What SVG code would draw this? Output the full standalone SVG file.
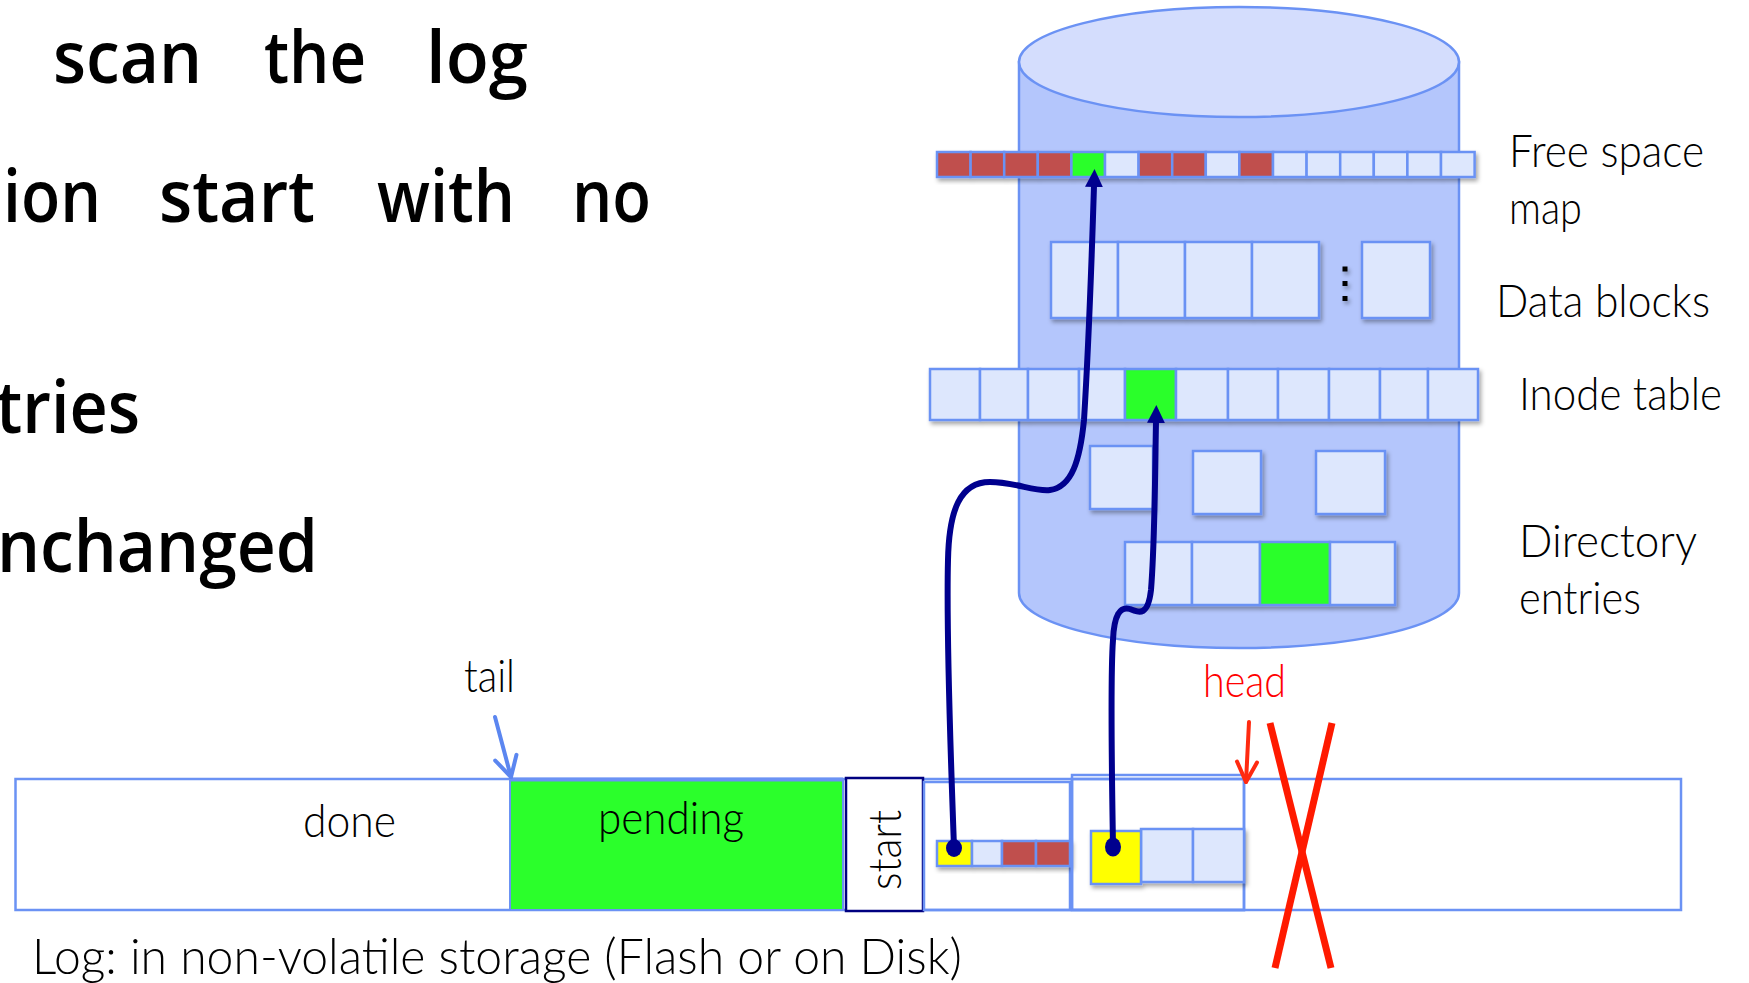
<svg xmlns="http://www.w3.org/2000/svg" width="1749" height="983" viewBox="0 0 1749 983">
<style>
.big{font-family:"Open Sans","Noto Sans",sans-serif;font-weight:560;font-size:72px;fill:#000}
.lbl{font-family:Lato,"Liberation Sans",sans-serif;font-weight:300;font-size:45px;fill:#000}
.cell{stroke:#6b92f4;stroke-width:2.5}
.lt{fill:#dde7fd}
.rd{fill:#c0504d}
.gr{fill:#2bff2b}
.yl{fill:#ffff00}
.seg{fill:none;stroke:#6b92f4;stroke-width:2.5}
.conn{fill:none;stroke:#00008e;stroke-width:6;stroke-linecap:round}
</style>
<defs>
<filter id="sh" x="-20%" y="-20%" width="150%" height="150%">
<feDropShadow dx="2" dy="3" stdDeviation="2" flood-color="#000" flood-opacity="0.35"/>
</filter>
<marker id="ah" markerUnits="userSpaceOnUse" viewBox="0 0 18 18" refX="1" refY="9" markerWidth="18" markerHeight="18" orient="auto">
<path d="M0,0 L18,9 L0,18 z" fill="#00008e"/>
</marker>
<marker id="vb" markerUnits="userSpaceOnUse" viewBox="-26 -16 30 32" refX="0" refY="0" markerWidth="30" markerHeight="32" orient="auto">
<path d="M-20,-11 L0,0 L-20,11" fill="none" stroke="#5b86f0" stroke-width="4" stroke-linecap="round" stroke-linejoin="round"/>
</marker>
<marker id="vr" markerUnits="userSpaceOnUse" viewBox="-26 -16 30 32" refX="0" refY="0" markerWidth="30" markerHeight="32" orient="auto">
<path d="M-20,-10 L0,0 L-20,10" fill="none" stroke="#ff2a10" stroke-width="4" stroke-linecap="round" stroke-linejoin="round"/>
</marker>
</defs>
<rect width="1749" height="983" fill="#fff"/>

<g id="bullets">
<text class="big" y="83"><tspan x="53" textLength="149" lengthAdjust="spacingAndGlyphs">scan</tspan><tspan x="264" textLength="102" lengthAdjust="spacingAndGlyphs">the</tspan><tspan x="426" textLength="102" lengthAdjust="spacingAndGlyphs">log</tspan></text>
<text class="big" y="222"><tspan x="3" textLength="98" lengthAdjust="spacingAndGlyphs">ion</tspan><tspan x="159" textLength="156" lengthAdjust="spacingAndGlyphs">start</tspan><tspan x="377" textLength="138" lengthAdjust="spacingAndGlyphs">with</tspan><tspan x="572" textLength="79" lengthAdjust="spacingAndGlyphs">no</tspan></text>
<text class="big" y="433"><tspan x="-4" textLength="144" lengthAdjust="spacingAndGlyphs">tries</tspan></text>
<text class="big" y="572"><tspan x="-3" textLength="321" lengthAdjust="spacingAndGlyphs">nchanged</tspan></text>
</g>

<g id="disk">
<path d="M1019,62 L1019,593 A220,55 0 0 0 1459,593 L1459,62 Z" fill="#b4c6fc" stroke="#6b92f4" stroke-width="2.5"/>
<ellipse cx="1239" cy="62" rx="220" ry="55" fill="#d4ddfd" stroke="#6b92f4" stroke-width="2.5"/>
</g>

<g id="free-space-map" filter="url(#sh)">
<rect class="cell rd" x="937" y="152" width="33.6" height="25"/>
<rect class="cell rd" x="970.6" y="152" width="33.6" height="25"/>
<rect class="cell rd" x="1004.2" y="152" width="33.6" height="25"/>
<rect class="cell rd" x="1037.8" y="152" width="33.6" height="25"/>
<rect class="cell gr" x="1071.4" y="152" width="33.6" height="25"/>
<rect class="cell lt" x="1105" y="152" width="33.6" height="25"/>
<rect class="cell rd" x="1138.6" y="152" width="33.6" height="25"/>
<rect class="cell rd" x="1172.2" y="152" width="33.6" height="25"/>
<rect class="cell lt" x="1205.8" y="152" width="33.6" height="25"/>
<rect class="cell rd" x="1239.4" y="152" width="33.6" height="25"/>
<rect class="cell lt" x="1273" y="152" width="33.6" height="25"/>
<rect class="cell lt" x="1306.6" y="152" width="33.6" height="25"/>
<rect class="cell lt" x="1340.2" y="152" width="33.6" height="25"/>
<rect class="cell lt" x="1373.8" y="152" width="33.6" height="25"/>
<rect class="cell lt" x="1407.4" y="152" width="33.6" height="25"/>
<rect class="cell lt" x="1441" y="152" width="33.6" height="25"/>
</g>
<g id="free-space-label"><text class="lbl" x="1509" y="167" textLength="195" lengthAdjust="spacingAndGlyphs">Free space</text><text class="lbl" x="1509" y="224" textLength="73" lengthAdjust="spacingAndGlyphs">map</text></g>

<g id="data-blocks" filter="url(#sh)">
<rect class="cell lt" x="1051" y="242" width="67" height="76"/>
<rect class="cell lt" x="1118" y="242" width="67" height="76"/>
<rect class="cell lt" x="1185" y="242" width="67" height="76"/>
<rect class="cell lt" x="1252" y="242" width="67" height="76"/>
<rect class="cell lt" x="1362" y="242" width="68" height="76"/>
<rect x="1342.5" y="266.5" width="5" height="5" fill="#000"/>
<rect x="1342.5" y="281" width="5" height="5" fill="#000"/>
<rect x="1342.5" y="296" width="5" height="5" fill="#000"/>
</g>
<g id="data-blocks-label"><text class="lbl" x="1496" y="317" textLength="214" lengthAdjust="spacingAndGlyphs">Data blocks</text></g>

<g id="inode-table" filter="url(#sh)">
<rect class="cell lt" x="930" y="369" width="50" height="51"/>
<rect class="cell lt" x="980" y="369" width="48" height="51"/>
<rect class="cell lt" x="1028" y="369" width="51" height="51"/>
<rect class="cell lt" x="1079" y="369" width="46" height="51"/>
<rect class="cell gr" x="1125" y="369" width="51" height="51"/>
<rect class="cell lt" x="1176" y="369" width="52" height="51"/>
<rect class="cell lt" x="1228" y="369" width="50" height="51"/>
<rect class="cell lt" x="1278" y="369" width="51" height="51"/>
<rect class="cell lt" x="1329" y="369" width="51" height="51"/>
<rect class="cell lt" x="1380" y="369" width="48" height="51"/>
<rect class="cell lt" x="1428" y="369" width="50" height="51"/>
</g>
<g id="inode-label"><text class="lbl" x="1519" y="410" textLength="203" lengthAdjust="spacingAndGlyphs">Inode table</text></g>

<g id="inode-blocks" filter="url(#sh)">
<rect class="cell lt" x="1090" y="446" width="63" height="63"/>
<rect class="cell lt" x="1193" y="451" width="68" height="63"/>
<rect class="cell lt" x="1316" y="451" width="69" height="63"/>
</g>

<g id="directory-entries" filter="url(#sh)">
<rect class="cell lt" x="1125" y="542" width="67" height="63"/>
<rect class="cell lt" x="1192" y="542" width="68" height="63"/>
<rect class="cell gr" x="1260" y="542" width="70" height="63"/>
<rect class="cell lt" x="1330" y="542" width="65" height="63"/>
</g>
<g id="directory-label"><text class="lbl" x="1519" y="557" textLength="178" lengthAdjust="spacingAndGlyphs">Directory</text><text class="lbl" x="1519" y="614" textLength="122" lengthAdjust="spacingAndGlyphs">entries</text></g>

<g id="log">
<rect x="15.5" y="779" width="1665.5" height="131" fill="#fff" stroke="#6b92f4" stroke-width="2.5"/>
<rect x="510" y="779" width="333" height="131" fill="#2bff2b" stroke="#6b92f4" stroke-width="2"/>
<line x1="510" y1="779.5" x2="843" y2="779.5" stroke="#6b92f4" stroke-width="4"/>
<text class="lbl" x="303" y="837" textLength="93" lengthAdjust="spacingAndGlyphs">done</text>
<text class="lbl" x="598" y="834" textLength="146" lengthAdjust="spacingAndGlyphs">pending</text>
<text class="lbl" x="32" y="974" textLength="930" lengthAdjust="spacingAndGlyphs" style="font-size:50px">Log: in non-volatile storage (Flash or on Disk)</text>
</g>

<g id="start">
<rect x="846" y="778" width="77" height="133" fill="#fff" stroke="#000080" stroke-width="2.5"/>
<text class="lbl" transform="translate(901 890) rotate(-90)" x="0" y="0" textLength="80" lengthAdjust="spacingAndGlyphs">start</text>
</g>

<g id="record1">
<rect class="seg" x="924" y="782" width="146" height="128"/>
<g filter="url(#sh)">
<rect class="cell yl" x="937" y="841" width="35" height="25"/>
<rect class="cell lt" x="972" y="841" width="30" height="25"/>
<rect class="cell rd" x="1002" y="841" width="34" height="25"/>
<rect class="cell rd" x="1036" y="841" width="34" height="25"/>
</g>
</g>

<g id="record2">
<rect class="seg" x="1072" y="775" width="172" height="135"/>
<rect class="seg" x="1072" y="779" width="172" height="131" stroke-width="1.5"/>
<g filter="url(#sh)">
<rect class="cell lt" x="1141" y="829" width="52" height="53"/>
<rect class="cell lt" x="1193" y="829" width="51" height="53"/>
<rect class="cell yl" x="1091" y="831" width="50" height="53"/>
</g>
</g>

<g id="tail">
<text class="lbl" x="464" y="692" textLength="51" lengthAdjust="spacingAndGlyphs">tail</text>
</g>
<g id="head">
<text class="lbl" x="1203" y="697" textLength="83" lengthAdjust="spacingAndGlyphs" style="fill:#ff0000">head</text>
</g>

<g id="connectors">
<path class="conn" d="M954,848 C951,760 946,640 948,560 C949,510 960,482 990,482 C1015,482 1035,492 1050,490 C1072,487 1080,460 1084,420 C1089,340 1092,250 1094,186" marker-end="url(#ah)"/>
<path class="conn" d="M1113,847 C1112,780 1110,680 1113,640 C1114,615 1120,606 1130,609 C1140,613 1148,616 1151,590 C1155,540 1155,470 1156,422" marker-end="url(#ah)"/>
<ellipse cx="954" cy="848" rx="8" ry="9" fill="#00008e"/>
<ellipse cx="1113" cy="847" rx="8" ry="9.5" fill="#00008e"/>
<line x1="495" y1="717" x2="511" y2="777" stroke="#5b86f0" stroke-width="4" stroke-linecap="round" marker-end="url(#vb)"/>
<line x1="1249" y1="722" x2="1246" y2="782" stroke="#ff2a10" stroke-width="4" stroke-linecap="round" marker-end="url(#vr)"/>
</g>

<g id="cross">
<line x1="1270" y1="723" x2="1331" y2="968" stroke="#ff1a00" stroke-width="7"/>
<line x1="1332" y1="723" x2="1275" y2="968" stroke="#ff1a00" stroke-width="7"/>
</g>
</svg>
